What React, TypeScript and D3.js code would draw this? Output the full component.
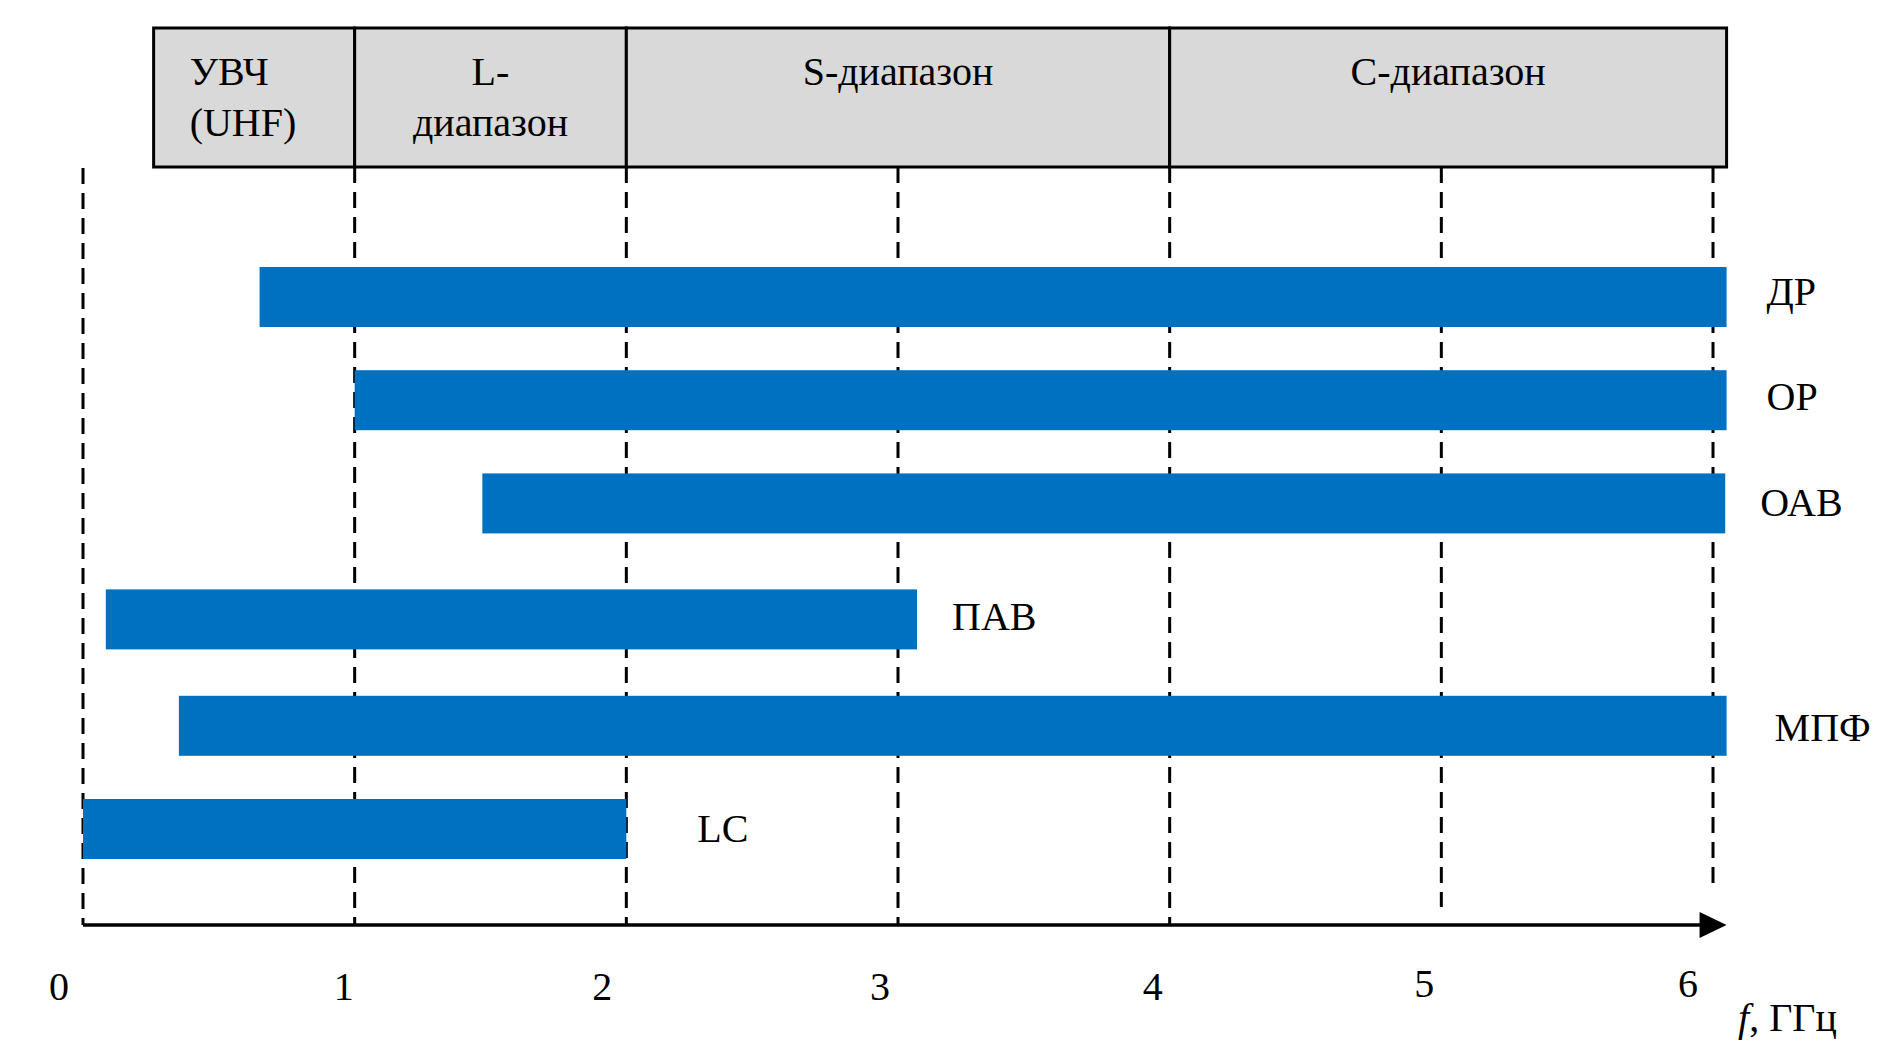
import React from "react";
import * as d3 from "d3";

const categories = ["ДР", "ОР", "ОАВ", "ПАВ", "МПФ", "LC"];
const startGHz = [0.65, 1.0, 1.47, 0.084, 0.353, 0.0];
const endGHz = [6.05, 6.05, 6.045, 3.07, 6.05, 2.0];

const tickValues = [0, 1, 2, 3, 4, 5, 6];
const tickLabels = ["0", "1", "2", "3", "4", "5", "6"];

const bandEdges = [0.26, 1, 2, 4, 6.05];
const bandLine1 = ["УВЧ", "L-", "S-диапазон", "C-диапазон"];
const bandLine2 = ["(UHF)", "диапазон", "", ""];

// layout (not data): row slot positions and label offsets
const rowSlot = [0, 0.97, 1.94, 3.03, 4.03, 5];
const labelDx = [40, 40, 35, 35, 48, 71];
const labelDy = [8, 10, 13, 11, 15, 13];
const tickDx = [-24, -11, -24, -18, -17, -17, -25];

const W = 1884;
const H = 1064;
const FONT = "'Liberation Serif', 'Times New Roman', serif";
const BLUE = "#0070C0";

export default function App() {
  const x = d3.scaleLinear().domain([0, 6]).range([83, 1713]);
  const yRow = d3.scaleLinear().domain([0, 5]).range([297, 829]);
  const barH = 60;
  const axisY = 925;
  const headerTop = 28;
  const headerBottom = 167;
  const gridTop = [168, 167, 167, 167, 167, 167, 167];
  const gridBottom = [925, 925, 925, 925, 925, 907, 887];

  return (
    <svg
      width={W}
      height={H}
      viewBox={`0 0 ${W} ${H}`}
      style={{ position: "absolute", left: 0, top: 0, background: "#fff" }}
      fontFamily={FONT}
    >
      {bandLine1.map((t, i) => {
        const x0 = x(bandEdges[i]);
        const x1 = x(bandEdges[i + 1]);
        const left = i === 0;
        return (
          <g key={"band" + i}>
            <rect
              x={x0}
              y={headerTop}
              width={x1 - x0}
              height={headerBottom - headerTop}
              fill="#d9d9d9"
              stroke="#000"
              strokeWidth={3}
            />
            <text
              x={left ? x0 + 36 : (x0 + x1) / 2}
              y={85}
              fontSize={40}
              textAnchor={left ? "start" : "middle"}
              fill="#000"
            >
              {t}
            </text>
            {bandLine2[i] && (
              <text
                x={left ? x0 + 36 : (x0 + x1) / 2}
                y={136}
                fontSize={40}
                textAnchor={left ? "start" : "middle"}
                fill="#000"
              >
                {bandLine2[i]}
              </text>
            )}
          </g>
        );
      })}

      {tickValues.map((v, i) => (
        <line
          key={"g" + v}
          x1={x(v)}
          x2={x(v)}
          y1={gridTop[i]}
          y2={gridBottom[i]}
          stroke="#000"
          strokeWidth={3}
          strokeDasharray="16 9"
        />
      ))}

      {categories.map((c, i) => (
        <rect
          key={"b" + c}
          x={x(startGHz[i])}
          y={yRow(rowSlot[i]) - barH / 2}
          width={x(endGHz[i]) - x(startGHz[i])}
          height={barH}
          fill={BLUE}
        />
      ))}

      {categories.map((c, i) => (
        <text
          key={"l" + c}
          x={x(endGHz[i]) + labelDx[i]}
          y={yRow(rowSlot[i]) + labelDy[i]}
          fontSize={40}
          fill="#000"
        >
          {c}
        </text>
      ))}

      <line x1={x(0)} x2={x(6.05) - 20} y1={axisY} y2={axisY} stroke="#000" strokeWidth={3.5} />
      <path
        d={`M${x(6.05)},${axisY} L${x(6.05) - 27},${axisY - 13} L${x(6.05) - 27},${axisY + 13} Z`}
        fill="#000"
      />

      {tickValues.map((v, i) => (
        <text
          key={"t" + v}
          x={x(v) + tickDx[i]}
          y={v >= 5 ? 997 : 1000}
          fontSize={40}
          textAnchor="middle"
          fill="#000"
        >
          {tickLabels[i]}
        </text>
      ))}

      <text x={1738} y={1031} fontSize={40} fill="#000">
        <tspan fontStyle="italic">f</tspan>
        <tspan>, ГГц</tspan>
      </text>
    </svg>
  );
}
